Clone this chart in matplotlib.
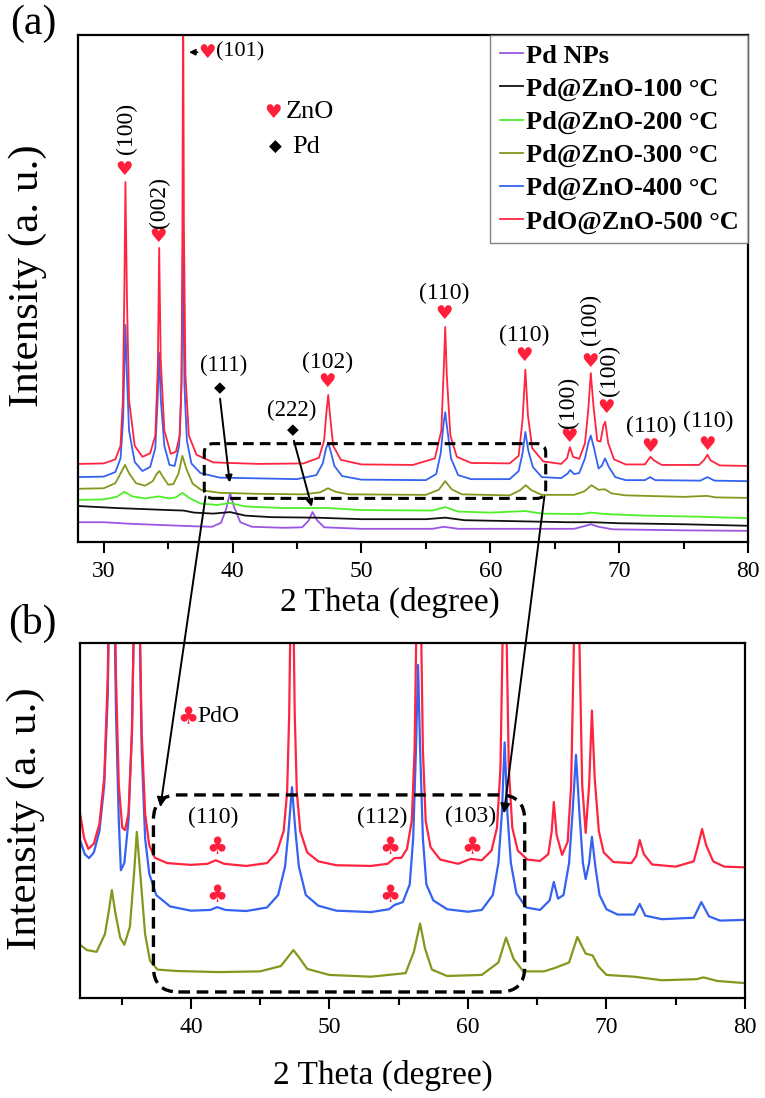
import matplotlib
matplotlib.use("Agg")
import matplotlib.pyplot as plt
from matplotlib.patches import FancyBboxPatch, ConnectionPatch
from matplotlib.ticker import MultipleLocator

plt.rcParams["font.family"] = ["Liberation Serif", "DejaVu Sans"]

# ---- panel (a): full patterns, intensity in arbitrary units (0-100 view) ----
series_a = ["Pd NPs", "Pd@ZnO-100 °C", "Pd@ZnO-200 °C",
            "Pd@ZnO-300 °C", "Pd@ZnO-400 °C", "PdO@ZnO-500 °C"]
colors = ["#9b55e0", "#111111", "#4ef02a", "#7f9a1c", "#3562f0", "#ff2440"]

purple_a = [(28.0, 3.9), (30.0, 3.9), (32.0, 3.6), (35.0, 3.3), (37.0, 3.1), (38.4, 3.0),
            (39.1, 3.8), (39.5, 6.5), (39.8, 9.7), (40.1, 7.0), (40.6, 3.9), (41.5, 3.0),
            (44.0, 2.8), (45.4, 2.9), (45.9, 4.2), (46.2, 5.9), (46.55, 4.3), (47.1, 2.9),
            (50.0, 2.6), (55.5, 2.6), (56.4, 3.0), (57.5, 2.6), (62.0, 2.6), (66.5, 2.6),
            (67.4, 3.2), (67.8, 3.5), (68.4, 3.0), (69.5, 2.5), (75.0, 2.3), (80.0, 2.2)]
black_a = [(28.0, 7.1), (31.0, 6.7), (33.0, 6.5), (35.0, 6.3), (36.2, 6.2), (37.0, 5.8),
           (38.5, 5.6), (39.8, 5.9), (41.0, 5.2), (43.0, 4.9), (46.5, 4.8), (50.0, 4.5),
           (55.0, 4.5), (56.5, 4.8), (58.0, 4.3), (62.0, 4.1), (66.0, 3.9), (68.0, 3.9),
           (70.0, 3.7), (75.0, 3.5), (80.0, 3.2)]
green_a = [(28.0, 8.3), (30.0, 8.4), (31.0, 8.9), (31.6, 9.9), (32.2, 9.0), (33.2, 8.6),
           (34.3, 9.0), (35.0, 8.6), (35.6, 8.8), (36.1, 9.7), (36.7, 8.6), (37.5, 7.6),
           (38.8, 7.3), (39.8, 7.7), (41.0, 7.0), (44.0, 6.7), (47.4, 6.7), (50.0, 6.3),
           (55.5, 6.2), (56.5, 6.9), (57.5, 6.0), (60.0, 5.8), (62.7, 6.1), (64.0, 5.6),
           (67.0, 5.5), (67.8, 5.8), (69.0, 5.5), (72.0, 5.2), (76.0, 5.0), (80.0, 4.7)]
olive_a = [(28.0, 10.5), (30.0, 10.6), (30.9, 11.6), (31.3, 13.5), (31.65, 15.2), (32.0, 13.4),
           (32.5, 11.6), (33.2, 11.1), (33.8, 12.0), (34.1, 13.4), (34.32, 14.0), (34.6, 12.8),
           (35.0, 11.3), (35.4, 11.4), (35.8, 13.5), (36.1, 17.0), (36.4, 14.5), (36.9, 11.5),
           (37.6, 10.2), (39.0, 9.7), (42.0, 9.5), (45.5, 9.4), (46.8, 9.8), (47.4, 10.6),
           (48.0, 9.9), (49.0, 9.4), (55.0, 9.3), (56.0, 10.3), (56.5, 12.0), (57.0, 10.4),
           (57.8, 9.4), (61.5, 9.2), (62.3, 10.2), (62.75, 11.2), (63.2, 10.2), (64.0, 9.3),
           (66.5, 9.3), (67.3, 10.0), (67.85, 11.2), (68.4, 10.3), (68.9, 10.4), (69.4, 9.6),
           (70.5, 9.2), (75.0, 8.9), (76.8, 9.1), (77.5, 8.8), (80.0, 8.7)]
blue_a = [(28.0, 12.8), (30.0, 12.9), (30.9, 13.8), (31.3, 16.5), (31.5, 24.0), (31.6, 35.0),
          (31.68, 42.8), (31.78, 34.0), (31.96, 22.0), (32.4, 15.8), (33.0, 14.0), (33.6, 14.8),
          (34.0, 18.5), (34.18, 28.0), (34.3, 37.3), (34.43, 28.0), (34.7, 19.0), (35.1, 15.2),
          (35.5, 15.0), (35.85, 19.0), (36.02, 30.0), (36.14, 58.0), (36.26, 31.0), (36.45, 20.0),
          (36.8, 15.5), (37.5, 13.6), (39.0, 12.7), (45.0, 12.4), (46.5, 13.2), (47.0, 15.5),
          (47.25, 18.5), (47.42, 19.5), (47.6, 18.0), (47.9, 15.0), (48.5, 13.0), (50.0, 12.3),
          (55.0, 12.2), (55.8, 13.4), (56.15, 17.5), (56.38, 23.5), (56.5, 25.6), (56.65, 22.5),
          (56.95, 16.5), (57.5, 13.2), (58.5, 12.4), (61.5, 12.4), (62.2, 14.0), (62.5, 17.5),
          (62.72, 21.7), (62.95, 18.0), (63.3, 14.8), (64.0, 12.8), (65.5, 12.6), (66.0, 13.5),
          (66.2, 14.2), (66.5, 13.4), (66.9, 13.6), (67.35, 16.5), (67.6, 19.5), (67.8, 21.0),
          (68.05, 18.5), (68.4, 14.5), (68.65, 15.0), (68.9, 16.5), (69.2, 14.8), (69.7, 12.8),
          (70.5, 12.2), (72.0, 12.2), (72.4, 12.8), (72.8, 12.2), (76.3, 12.1), (76.85, 12.8),
          (77.4, 12.1), (80.0, 12.0)]
red_a = [(28.0, 15.4), (30.0, 15.5), (30.9, 16.3), (31.3, 19.0), (31.48, 28.0), (31.6, 50.0),
         (31.68, 71.0), (31.8, 48.0), (31.96, 28.0), (32.4, 19.0), (33.0, 16.8), (33.6, 17.5),
         (34.0, 21.0), (34.2, 35.0), (34.3, 58.0), (34.42, 36.0), (34.7, 22.0), (35.2, 17.4),
         (35.6, 17.8), (35.9, 21.0), (36.04, 32.0), (36.1, 60.0), (36.16, 110.0), (36.22, 62.0),
         (36.34, 33.0), (36.6, 21.0), (37.2, 17.2), (38.5, 15.7), (42.0, 15.4), (45.5, 15.5),
         (46.7, 16.6), (47.1, 20.0), (47.28, 25.5), (47.42, 29.0), (47.56, 25.0), (47.8, 19.0),
         (48.4, 16.2), (50.0, 15.3), (54.0, 15.2), (55.7, 16.5), (56.2, 22.0), (56.4, 35.0),
         (56.5, 42.4), (56.62, 33.0), (56.9, 21.0), (57.4, 16.8), (58.5, 15.6), (61.5, 15.5),
         (62.2, 17.0), (62.5, 24.0), (62.72, 34.0), (62.92, 25.0), (63.25, 18.5), (64.1, 15.9),
         (65.5, 15.4), (65.95, 16.5), (66.18, 18.7), (66.42, 16.8), (66.9, 16.4), (67.35, 19.5),
         (67.6, 26.0), (67.8, 33.3), (68.0, 27.0), (68.3, 20.0), (68.55, 19.8), (68.78, 23.0),
         (68.92, 23.7), (69.15, 19.5), (69.6, 16.3), (70.5, 15.3), (72.0, 15.3), (72.25, 16.2),
         (72.42, 16.8), (72.7, 16.1), (73.3, 15.2), (76.2, 15.2), (76.6, 16.2), (76.85, 17.2),
         (77.1, 16.1), (77.8, 15.1), (80.0, 15.0)]
curves_a = [purple_a, black_a, green_a, olive_a, blue_a, red_a]

# ZnO reflections marked in (a): heart position, label position, rotation
zno_hkl = ["(100)", "(002)", "(102)", "(110)", "(110)", "(100)", "(100)", "(100)", "(110)", "(110)"]
zno_heart = [(31.6, 73.5), (34.2, 60.2), (47.3, 31.6), (56.4, 45.0), (62.6, 36.7),
             (66.1, 20.8), (67.75, 35.6), (69.0, 26.5), (72.4, 18.8), (76.8, 19.2)]
zno_text = [(31.75, 81.5), (34.35, 67.0), (47.4, 35.5), (56.4, 49.0), (62.6, 40.8),
            (66.1, 27.6), (67.75, 43.8), (69.25, 33.8), (72.5, 22.8), (76.9, 23.7)]
zno_rot = [90, 90, 0, 0, 0, 90, 90, 90, 0, 0]

# Pd reflections: label, diamond, arrow tip
pd_hkl = ["(111)", "(222)"]
pd_text = [(39.3, 34.8), (44.6, 26.0)]
pd_diamond = [(39.0, 30.4), (44.7, 22.1)]
pd_tip = [(39.8, 11.2), (46.2, 6.4)]

# ---- panel (b): zoom of the three calcined samples ----
olive_b = [(32.0, 15.0), (32.5, 13.5), (33.2, 13.0), (33.8, 18.0), (34.1, 25.0), (34.3, 30.4),
           (34.55, 24.0), (34.9, 17.0), (35.2, 15.0), (35.6, 20.0), (35.9, 35.0), (36.1, 46.8),
           (36.35, 35.0), (36.7, 18.0), (37.05, 10.5), (37.6, 8.0), (39.0, 7.6), (42.0, 7.3),
           (45.0, 7.5), (46.5, 9.0), (47.0, 11.5), (47.4, 13.5), (47.8, 11.5), (48.4, 8.2),
           (50.0, 6.5), (53.0, 6.0), (55.5, 7.0), (56.1, 13.0), (56.55, 21.0), (56.9, 14.0),
           (57.4, 8.0), (58.5, 6.2), (61.0, 6.5), (62.2, 10.0), (62.75, 17.0), (63.3, 11.0),
           (64.0, 7.5), (65.5, 7.5), (66.3, 8.5), (67.3, 10.0), (67.9, 17.2), (68.5, 12.5),
           (69.0, 12.0), (69.4, 9.0), (70.0, 6.5), (72.0, 6.0), (74.0, 5.0), (76.5, 5.3),
           (77.0, 5.8), (78.0, 4.8), (80.0, 4.2)]
blue_b = [(32.0, 44.5), (32.35, 40.5), (32.65, 39.4), (33.0, 41.0), (33.4, 47.0), (33.75, 60.0),
          (34.0, 85.0), (34.15, 120.0), (34.3, 160.0), (34.45, 120.0), (34.6, 80.0), (34.8, 50.0),
          (34.95, 36.0), (35.2, 38.0), (35.5, 50.0), (35.75, 75.0), (35.95, 120.0), (36.1, 180.0),
          (36.25, 120.0), (36.45, 70.0), (36.7, 45.0), (37.0, 35.0), (37.5, 29.0), (38.5, 25.8),
          (40.0, 24.6), (41.4, 24.8), (41.9, 25.6), (42.5, 24.8), (44.0, 24.5), (45.5, 25.5),
          (46.3, 29.0), (46.8, 37.0), (47.05, 47.0), (47.3, 59.4), (47.55, 47.0), (47.8, 37.0),
          (48.3, 29.0), (49.2, 26.0), (50.5, 24.6), (53.0, 24.2), (54.3, 25.0), (54.7, 26.2),
          (55.3, 27.0), (55.8, 32.0), (56.05, 45.0), (56.25, 70.0), (56.4, 93.8), (56.55, 70.0),
          (56.75, 45.0), (57.0, 32.0), (57.5, 27.5), (58.5, 25.0), (60.0, 24.3), (61.0, 24.8),
          (61.8, 29.0), (62.2, 38.0), (62.45, 52.0), (62.65, 72.0), (62.85, 52.0), (63.1, 38.0),
          (63.5, 29.5), (64.2, 25.5), (65.2, 24.8), (65.9, 27.5), (66.2, 32.7), (66.5, 28.0),
          (66.9, 29.0), (67.3, 38.0), (67.55, 52.0), (67.8, 68.5), (68.05, 52.0), (68.3, 38.0),
          (68.5, 33.5), (68.75, 38.0), (68.95, 45.4), (69.2, 37.0), (69.5, 29.0), (70.0, 25.0),
          (70.8, 23.5), (72.0, 23.5), (72.4, 26.5), (72.8, 23.2), (74.0, 22.2), (76.3, 22.6),
          (76.85, 27.0), (77.4, 23.0), (78.2, 21.8), (80.0, 22.0)]
red_b = [(32.0, 52.0), (32.3, 45.0), (32.6, 42.0), (33.0, 43.5), (33.4, 49.0), (33.75, 62.0),
         (34.0, 90.0), (34.15, 130.0), (34.3, 170.0), (34.45, 130.0), (34.6, 90.0), (34.8, 60.0),
         (35.05, 48.0), (35.25, 47.3), (35.5, 52.0), (35.75, 75.0), (35.95, 120.0), (36.1, 180.0),
         (36.25, 120.0), (36.45, 75.0), (36.7, 52.0), (37.0, 43.0), (37.4, 39.5), (38.3, 38.0),
         (40.0, 37.5), (41.2, 37.8), (41.8, 38.8), (42.4, 37.8), (44.0, 37.2), (45.5, 38.0),
         (46.2, 41.0), (46.7, 47.0), (46.95, 58.0), (47.1, 80.0), (47.2, 110.0), (47.3, 200.0),
         (47.4, 110.0), (47.5, 80.0), (47.65, 58.0), (47.9, 47.0), (48.4, 41.0), (49.2, 38.5),
         (50.5, 37.4), (53.0, 37.2), (54.2, 37.8), (54.7, 39.4), (55.2, 39.5), (55.6, 42.0),
         (55.95, 50.0), (56.15, 70.0), (56.3, 110.0), (56.45, 200.0), (56.6, 110.0), (56.75, 70.0),
         (56.95, 50.0), (57.3, 42.5), (58.0, 39.0), (59.3, 37.8), (60.2, 39.2), (61.0, 38.8),
         (61.7, 41.5), (62.1, 48.0), (62.35, 65.0), (62.5, 100.0), (62.65, 160.0), (62.8, 100.0),
         (62.95, 65.0), (63.2, 48.0), (63.6, 41.5), (64.3, 39.0), (65.2, 38.6), (65.8, 40.5),
         (66.05, 47.0), (66.2, 55.2), (66.4, 46.0), (66.8, 40.3), (67.2, 44.0), (67.45, 60.0),
         (67.65, 100.0), (67.85, 170.0), (68.05, 100.0), (68.25, 60.0), (68.5, 46.5), (68.75, 60.0),
         (68.95, 81.0), (69.15, 62.0), (69.45, 47.0), (69.8, 41.0), (70.5, 38.3), (71.8, 38.0),
         (72.15, 40.0), (72.4, 44.5), (72.7, 40.5), (73.3, 37.6), (75.0, 37.0), (76.3, 38.5),
         (76.65, 43.5), (76.9, 47.6), (77.2, 43.0), (77.7, 38.5), (78.5, 37.0), (80.0, 36.8)]
curves_b = [olive_b, blue_b, red_b]
colors_b = [colors[3], colors[4], colors[5]]

# PdO reflections in (b)
pdo_hkl = ["(110)", "(112)", "(103)"]
pdo_text = [(41.6, 50.8), (53.8, 50.8), (60.2, 51.0)]
pdo_club = [(41.9, 42.6), (54.4, 42.6), (60.3, 42.6), (41.9, 29.0), (54.4, 29.0)]

W, H = 765, 1098
fig = plt.figure(figsize=(W / 100, H / 100), dpi=100)
ax_a = fig.add_axes([78 / W, 1 - 542 / H, 670 / W, 507 / H])
ax_b = fig.add_axes([80 / W, 1 - 998 / H, 665 / W, 355 / H])

def style_axis(ax, xmin, xlab_pos, ylab_pos):
    ax.set_xlim(xmin, 80)
    ax.set_ylim(0, 100)
    ax.set_yticks([])
    ax.xaxis.set_major_locator(MultipleLocator(10))
    ax.xaxis.set_minor_locator(MultipleLocator(5))
    ax.tick_params(axis="x", which="major", length=8, width=1.5, labelsize=17, pad=6)
    ax.tick_params(axis="x", which="minor", length=5, width=1.5)
    for s in ax.spines.values():
        s.set_linewidth(1.6)
    ax.set_xlabel("2 Theta (degree)", fontsize=24)
    ax.set_ylabel("Intensity (a. u.)", fontsize=31)
    ax.xaxis.set_label_coords(*xlab_pos)
    ax.yaxis.set_label_coords(*ylab_pos)

# panel (a)
for pts, c, lab in zip(curves_a, colors, series_a):
    x, y = zip(*pts)
    ax_a.plot(x, y, color=c, lw=1.3, label=lab)
style_axis(ax_a, 28, (0.466, -0.088), (-0.047, 0.525))
leg = ax_a.legend(loc="upper right", borderaxespad=0, fancybox=False,
                  handlelength=0.9, handletextpad=0.1, labelspacing=0.36,
                  borderpad=0.35, prop={"weight": "bold", "size": 19})
leg.get_frame().set_edgecolor("#666666")
leg.get_frame().set_linewidth(1.0)

heart_kw = dict(color="#ff1f3a", fontsize=14, ha="center", va="center", family="DejaVu Sans")
for lab, (hx, hy), (tx, ty), rot in zip(zno_hkl, zno_heart, zno_text, zno_rot):
    ax_a.text(hx, hy, "♥", **heart_kw)
    ax_a.text(tx, ty, lab, fontsize=17, ha="center", va="center", rotation=rot)

ax_a.text(38.0, 96.6, "♥", **heart_kw)
ax_a.text(38.7, 96.6, "(101)", fontsize=16, ha="left", va="center")
ax_a.annotate("", xy=(36.4, 96.6), xytext=(37.5, 96.6),
              arrowprops=dict(arrowstyle="-|>", color="k", lw=1.2, mutation_scale=9))

ax_a.text(43.1, 84.8, "♥", **heart_kw)
ax_a.text(44.1, 84.8, "ZnO", fontsize=19, ha="left", va="center")
ax_a.text(43.3, 78.0, "◆", color="k", fontsize=12, ha="center", va="center", family="DejaVu Sans")
ax_a.text(44.6, 78.0, "Pd", fontsize=19, ha="left", va="center")

for lab, (tx, ty), (dx, dy), (px, py) in zip(pd_hkl, pd_text, pd_diamond, pd_tip):
    ax_a.text(tx, ty, lab, fontsize=16.5, ha="center", va="center")
    ax_a.text(dx, dy, "◆", color="k", fontsize=11, ha="center", va="center", family="DejaVu Sans")
    ax_a.annotate("", xy=(px, py), xytext=(dx, dy - 1.6),
                  arrowprops=dict(arrowstyle="-|>", color="k", lw=1.4, mutation_scale=10))

box_a = FancyBboxPatch((37.8, 8.6), 64.3 - 37.8, 19.4 - 8.6,
                       boxstyle="round,pad=0,rounding_size=0.7", mutation_aspect=2.54,
                       fill=False, ec="k", lw=2.2, ls=(0, (3.5, 2)), zorder=5)
ax_a.add_patch(box_a)
fig.text(10 / W, 1 - 24 / H, "(a)", fontsize=30, ha="left", va="center")

# panel (b)
for pts, c in zip(curves_b, colors_b):
    x, y = zip(*pts)
    ax_b.plot(x, y, color=c, lw=1.6)
style_axis(ax_b, 32, (0.455, -0.175), (-0.052, 0.505))

club_kw = dict(color="#ff1f3a", fontsize=17, ha="center", va="center", family="DejaVu Sans")
ax_b.text(39.8, 79.2, "♣", **club_kw)
ax_b.text(40.5, 79.2, "PdO", fontsize=17, ha="left", va="center")
for lab, (tx, ty) in zip(pdo_hkl, pdo_text):
    ax_b.text(tx, ty, lab, fontsize=17, ha="center", va="center")
for cx, cy in pdo_club:
    ax_b.text(cx, cy, "♣", **club_kw)

box_b = FancyBboxPatch((37.3, 1.7), 64.1 - 37.3, 57.2 - 1.7,
                       boxstyle="round,pad=0,rounding_size=1.8", mutation_aspect=3.9,
                       fill=False, ec="k", lw=2.4, ls=(0, (3.5, 2)), zorder=5)
ax_b.add_patch(box_b)
fig.text(8 / W, 1 - 623 / H, "(b)", fontsize=30, ha="left", va="center")

# arrows linking the zoomed window of (a) to panel (b)
for (xa, ya), (xb, yb) in [((37.9, 9.0), (37.8, 53.8)), ((64.2, 9.0), (62.6, 52.0))]:
    con = ConnectionPatch(xyA=(xa, ya), coordsA=ax_a.transData,
                          xyB=(xb, yb), coordsB=ax_b.transData,
                          arrowstyle="-|>", color="k", lw=1.4, mutation_scale=14)
    fig.add_artist(con)

fig.savefig("out.png", dpi=100)
